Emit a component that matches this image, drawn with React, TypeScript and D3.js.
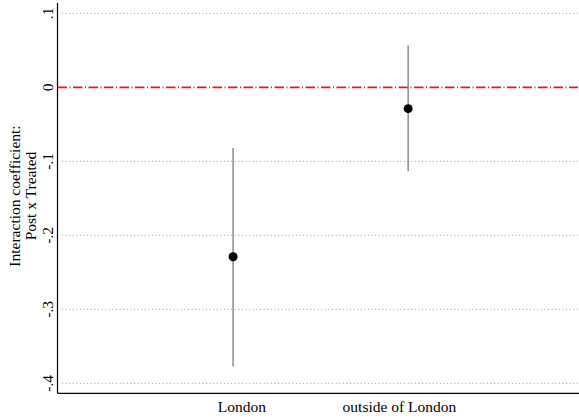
import React from "react";
import * as d3 from "d3";

const categories = ["London", "outside of London"];
const categoryPos = [1, 2];
const labelPos = [1.05, 1.95];
const estimates = [-0.229, -0.0288];
const ciLow = [-0.377, -0.1135];
const ciHigh = [-0.082, 0.0564];
const yTicks = [0.1, 0, -0.1, -0.2, -0.3, -0.4];
const yTickLabels = [".1", "0", "-.1", "-.2", "-.3", "-.4"];
const yTitle = ["Interaction coefficient:", "Post x Treated"];

const W = 579;
const H = 420;
const FONT = "'Liberation Serif', 'Times New Roman', serif";

export default function App() {
  const x = d3.scaleLinear().domain([0, 2.97]).range([58, 578]);
  const y = d3.scaleLinear().domain([-0.4135, 0.114]).range([393.3, 3]);
  const left = 57.5;
  const bottom = 393.3;

  return (
    <svg
      width={W}
      height={H}
      style={{ position: "absolute", left: 0, top: 0, background: "#fff" }}
      fontFamily={FONT}
    >
      <rect x={0} y={0} width={W} height={H} fill="#fff" />
      {yTicks.map((t, i) =>
        t === 0 ? null : (
          <line
            key={"g" + i}
            x1={62}
            x2={578}
            y1={y(t)}
            y2={y(t)}
            stroke="#9a9a9a"
            strokeWidth={1}
            strokeDasharray="1 2.6"
          />
        )
      )}
      <line
        x1={left}
        x2={578}
        y1={y(0)}
        y2={y(0)}
        stroke="#f01414"
        strokeWidth={1.6}
        strokeDasharray="9.5 2.5 1 2.5"
      />
      <line x1={left} x2={left} y1={3} y2={bottom} stroke="#000" strokeWidth={1.2} />
      <line x1={left} x2={579} y1={bottom} y2={bottom} stroke="#000" strokeWidth={1.2} />
      {yTicks.map((t, i) => (
        <text
          key={"t" + i}
          transform={`translate(52.5,${y(t)}) rotate(-90)`}
          textAnchor="middle"
          fontSize={15.5}
          fill="#000"
        >
          {yTickLabels[i]}
        </text>
      ))}
      {yTitle.map((s, i) => (
        <text
          key={"yt" + i}
          transform={`translate(${20 + i * 16},196) rotate(-90)`}
          textAnchor="middle"
          fontSize={15.5}
          fill="#000"
        >
          {s}
        </text>
      ))}
      {categories.map((c, i) => (
        <g key={c}>
          <line
            x1={x(categoryPos[i])}
            x2={x(categoryPos[i])}
            y1={y(ciHigh[i])}
            y2={y(ciLow[i])}
            stroke="#8c8c8c"
            strokeWidth={1.5}
          />
          <circle cx={x(categoryPos[i])} cy={y(estimates[i])} r={4.5} fill="#000" />
        </g>
      ))}
      {categories.map((c, i) => (
        <text
          key={"xl" + i}
          x={x(labelPos[i])}
          y={411.5}
          textAnchor="middle"
          fontSize={15.5}
          fill="#000"
        >
          {c}
        </text>
      ))}
    </svg>
  );
}
